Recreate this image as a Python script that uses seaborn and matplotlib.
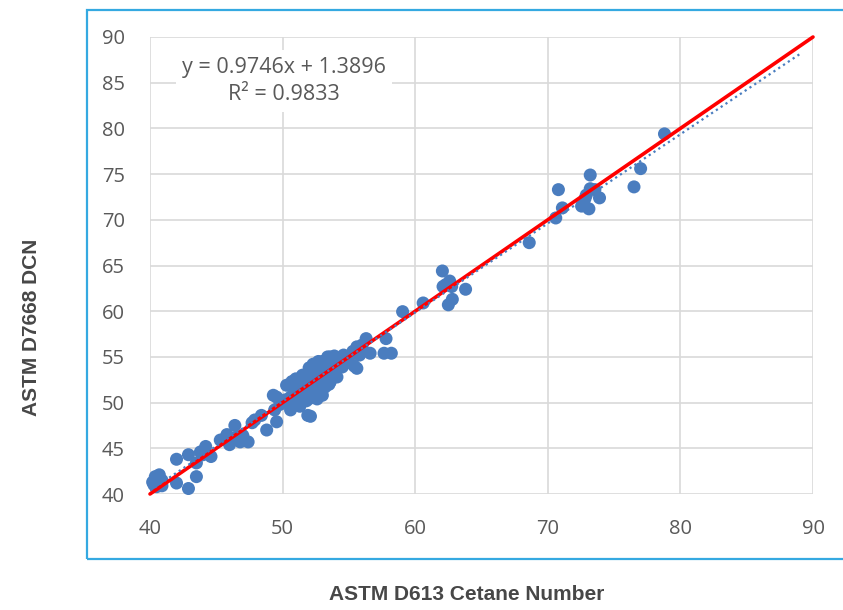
import numpy as np
import pandas as pd
import matplotlib
matplotlib.use("Agg")
import matplotlib.pyplot as plt
import seaborn as sns
from matplotlib.patches import Rectangle

# ---- data ----
d613 = [40.3, 40.4, 40.7, 40.9, 40.5, 40.9, 40.2,
        42.0, 42.0, 42.9, 42.9, 43.5, 43.5, 43.8, 44.2, 44.6, 44.0,
        45.3, 45.8, 45.6, 46.4, 46.0, 46.8, 47.4, 46.5, 47.0, 47.9, 48.4, 48.8, 47.7,
        49.55, 49.4, 50.6, 49.55, 50.6, 49.3, 49.8, 50.2, 50.7, 51.0, 50.3, 51.5, 52.1, 51.9,
        50.9, 51.3, 51.2, 51.7, 51.8, 52.0, 52.3, 52.8, 52.6, 52.2, 52.0, 52.5, 52.9, 53.1,
        53.3, 53.6, 53.0, 52.7, 53.5, 53.9, 53.7, 54.0, 54.3, 53.4, 53.9, 54.5, 54.8, 52.4,
        51.5, 52.1, 53.2, 52.6, 51.8, 53.3, 54.1, 52.9, 52.3, 53.6, 54.6, 55.0, 55.4, 55.3,
        55.6, 55.6, 55.0, 54.2, 53.8, 52.8, 51.6, 51.0, 50.8, 51.3, 50.5, 52.4, 53.0, 53.5,
        56.3, 57.8, 56.6, 57.65, 58.2, 56.0, 55.8,
        59.05, 60.6, 62.05, 62.6, 62.1, 62.75, 63.8, 62.8, 62.5, 62.3,
        68.6, 70.6, 71.1, 70.8, 72.55, 73.1, 72.9, 73.2, 73.55, 73.9, 73.2, 72.8,
        77.0, 76.5, 78.8]
d7668 = [41.0, 41.9, 42.1, 41.5, 40.8, 40.9, 41.3,
         43.8, 41.2, 40.6, 44.3, 41.9, 43.4, 44.6, 45.2, 44.1, 44.3,
         45.9, 46.5, 46.0, 47.5, 45.4, 45.7, 45.7, 46.2, 46.4, 48.1, 48.6, 47.0, 47.8,
         47.9, 49.2, 49.2, 50.6, 50.6, 50.8, 49.8, 50.3, 52.3, 51.3, 51.9, 50.3, 48.5, 48.6,
         50.2, 51.0, 52.2, 51.6, 52.4, 51.0, 51.8, 51.0, 52.9, 53.2, 53.8, 53.6, 52.4, 53.1,
         54.0, 52.3, 54.5, 54.5, 53.5, 54.2, 54.8, 53.3, 54.6, 55.0, 55.1, 53.9, 54.6, 52.4,
         53.0, 50.5, 51.7, 50.4, 50.2, 52.8, 52.8, 53.8, 54.2, 55.0, 55.2, 54.4, 54.0, 55.6,
         56.1, 53.75, 55.0, 54.0, 53.0, 52.0, 51.5, 52.6, 51.6, 49.6, 50.0, 51.2, 50.8, 52.0,
         57.0, 57.0, 55.4, 55.4, 55.4, 56.3, 55.2,
         59.95, 60.9, 64.4, 63.3, 62.7, 62.7, 62.4, 61.3, 60.7, 62.9,
         67.5, 70.2, 71.3, 73.3, 71.5, 71.2, 72.7, 74.9, 73.3, 72.4, 73.4, 72.3,
         75.6, 73.6, 79.4]
slope = 0.9746
intercept = 1.3896
r2 = 0.9833
x_ticks = [40, 50, 60, 70, 80, 90]
y_ticks = [40, 45, 50, 55, 60, 65, 70, 75, 80, 85, 90]
x_label = "ASTM D613 Cetane Number"
y_label = "ASTM D7668 DCN"

df = pd.DataFrame({"D613": d613, "D7668": d7668})

sns.set_theme(style="white")
plt.rcParams["font.family"] = ["Open Sans", "DejaVu Sans"]

fig = plt.figure(figsize=(8.43, 6.10), dpi=100)
ax = fig.add_axes([150 / 843, 116 / 610, 663 / 843, 457 / 610])

# outer blue frame
fig.patches.append(Rectangle((87 / 843, 51 / 610), 760 / 843, 549 / 610,
                             transform=fig.transFigure, fill=False,
                             edgecolor="#35A9E1", linewidth=1.6, zorder=0))

ax.set_xlim(40, 90)
ax.set_ylim(40, 90)
ax.set_xticks(x_ticks)
ax.set_yticks(y_ticks)
ax.grid(True, color="#D9D9D9", linewidth=1.2)
ax.set_axisbelow(True)
for s in ax.spines.values():
    s.set_visible(False)
ax.tick_params(axis="both", length=0, labelsize=14.5, labelcolor="#595959", pad=18)
ax.tick_params(axis="y", pad=18)

# scatter points
sns.scatterplot(data=df, x="D613", y="D7668", ax=ax, s=88, color="#4A7DBF",
                edgecolor="none", linewidth=0, zorder=3, clip_on=False)

# 1:1 line (red)
ax.plot([40, 90], [40, 90], color="#FF0000", linewidth=2.6,
        solid_capstyle="round", zorder=4, clip_on=False)
# linear trend line (dotted)
tx = np.array([40.0, 89.0])
ax.plot(tx, slope * tx + intercept, color="#4A7DBF", linewidth=1.6,
        linestyle=(0, (1, 1.6)), zorder=4)

ax.text(50.1, 85.2, f"y = {slope}x + {intercept}\nR² = {r2}",
        ha="center", va="center", fontsize=15.5, color="#595959",
        linespacing=1.4, zorder=5,
        bbox=dict(boxstyle="square,pad=0.3", facecolor="white", edgecolor="none"))

ax.set_xlabel("")
ax.set_ylabel("")
fig.text(467 / 843, 15 / 610, x_label, ha="center", va="center", fontsize=15,
         color="#474747", fontweight="bold", family=["Liberation Sans", "DejaVu Sans"])
fig.text(32 / 843, 283 / 610, y_label, ha="center", va="center", fontsize=15,
         color="#474747", fontweight="bold", rotation=90,
         family=["Liberation Sans", "DejaVu Sans"])

fig.savefig("out.png", dpi=100)
